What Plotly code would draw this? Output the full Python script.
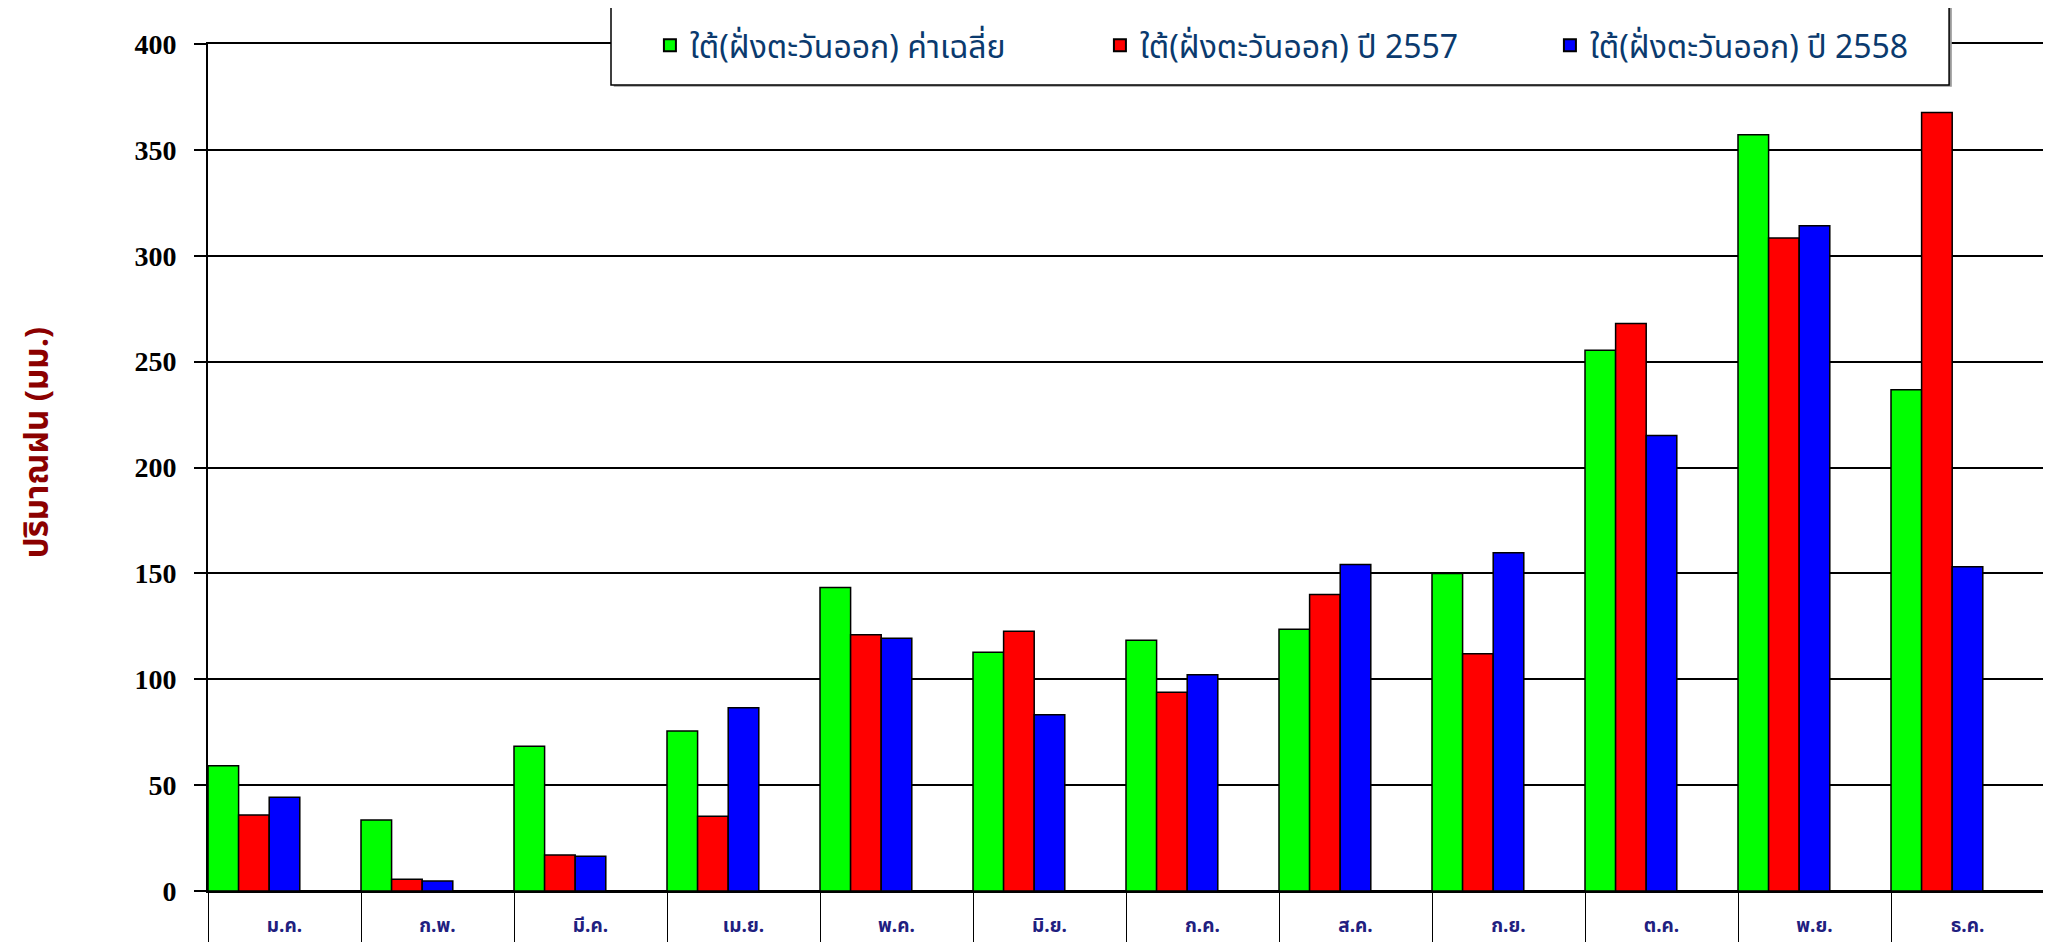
import plotly.graph_objects as go

months = ["ม.ค.", "ก.พ.", "มี.ค.", "เม.ย.", "พ.ค.", "มิ.ย.", "ก.ค.", "ส.ค.", "ก.ย.", "ต.ค.", "พ.ย.", "ธ.ค."]
avg_rain = [59.2, 33.5, 68.4, 75.6, 143.3, 112.8, 118.4, 123.6, 150.0, 255.4, 357.2, 236.7]
rain_2557 = [35.9, 5.5, 17.0, 35.3, 121.0, 122.7, 93.9, 140.0, 112.0, 268.0, 308.4, 367.7]
rain_2558 = [44.3, 4.7, 16.4, 86.5, 119.4, 83.2, 102.1, 154.2, 159.7, 215.1, 314.2, 153.1]
series_names = ["ใต้(ฝั่งตะวันออก) ค่าเฉลี่ย", "ใต้(ฝั่งตะวันออก) ปี 2557", "ใต้(ฝั่งตะวันออก) ปี 2558"]
y_ticks = [0, 50, 100, 150, 200, 250, 300, 350, 400]
y_title = "ปริมาณฝน (มม.)"

colors = ["#00FF00", "#FF0000", "#0000FF"]
offsets = [-0.5, -0.3, -0.1]
xpos = list(range(len(months)))

fig = go.Figure()
for name, vals, col, off in zip(series_names, [avg_rain, rain_2557, rain_2558], colors, offsets):
    fig.add_trace(go.Bar(
        x=xpos, y=vals, name=name, width=0.2, offset=off,
        marker=dict(color=col, line=dict(color="black", width=1.5)),
    ))

thai_font = "Noto Sans Thai, Tahoma, DejaVu Sans, sans-serif"

# The page body has an 8px default margin, so the figure is sized to fit the window.
fig.update_layout(
    width=2043, height=934,
    margin=dict(l=200, r=7, t=36, b=51, pad=0, autoexpand=False),
    paper_bgcolor="white", plot_bgcolor="white",
    barmode="overlay",
    showlegend=True,
    legend=dict(
        orientation="h",
        x=0.2407, y=0.9983, xanchor="left", yanchor="middle",
        bgcolor="rgba(0,0,0,0)", borderwidth=0,
        font=dict(family=thai_font, size=32, color="#0A3A6E"),
        entrywidth=405, entrywidthmode="pixels",
        itemsizing="constant",
    ),
    xaxis=dict(
        range=[-0.5, 11.5],
        tickmode="array", tickvals=xpos, ticktext=months,
        ticks="outside", ticklen=0,
        tickfont=dict(family=thai_font, size=19, color="#1F2080", weight="bold"),
        ticklabelstandoff=16,
        showgrid=False, zeroline=False,
        showline=True, linecolor="black", linewidth=2, mirror=True,
        minor=dict(tickmode="array", tickvals=[i - 0.5 for i in range(len(months) + 1)],
                   ticks="outside", ticklen=51, tickwidth=1, tickcolor="black", showgrid=False),
    ),
    yaxis=dict(
        range=[0, 400],
        tickmode="array", tickvals=y_ticks,
        ticks="outside", ticklen=12, tickwidth=1.5, tickcolor="black",
        tickfont=dict(family="Liberation Serif, Times New Roman, serif", size=28, color="black", weight="bold"),
        ticklabelstandoff=12,
        showgrid=True, gridcolor="black", gridwidth=1.5,
        zeroline=True, zerolinecolor="black", zerolinewidth=2,
        showline=True, linecolor="black", linewidth=2, mirror=True,
    ),
    shapes=[
        dict(type="rect", xref="paper", yref="paper",
             x0=0.2195 + 0.0015, x1=0.9483 + 0.0015, y0=0.9516 - 0.002, y1=1.0449 - 0.002,
             fillcolor="#9a9a9a", line=dict(width=0), layer="above"),
        dict(type="rect", xref="paper", yref="paper",
             x0=0.2195, x1=0.9483, y0=0.9516, y1=1.0449,
             fillcolor="white", line=dict(color="black", width=1.5), layer="above"),
    ],
    annotations=[
        dict(text=y_title, xref="paper", yref="paper", x=-0.0925, y=0.53,
             xanchor="center", yanchor="middle", textangle=-90, showarrow=False,
             font=dict(family=thai_font, size=33, color="#8B0000", weight="bold")),
    ],
)

fig.write_html("out.html")
